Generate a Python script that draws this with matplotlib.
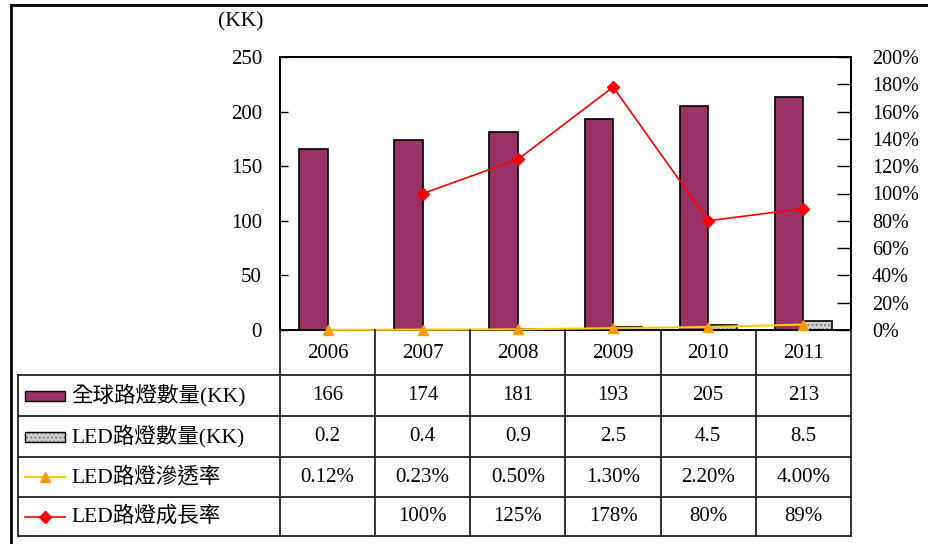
import numpy as np
import matplotlib
matplotlib.use("Agg")
import matplotlib.pyplot as plt
import matplotlib.transforms as mtransforms
from matplotlib.lines import Line2D
from matplotlib.patches import Rectangle

plt.rcParams['font.family'] = ['Liberation Serif', 'Noto Sans CJK TC', 'DejaVu Sans']

years = ['2006', '2007', '2008', '2009', '2010', '2011']
total_lights = [166, 174, 181, 193, 205, 213]
led_lights = [0.2, 0.4, 0.9, 2.5, 4.5, 8.5]
penetration = [0.12, 0.23, 0.50, 1.30, 2.20, 4.00]
growth = [np.nan, 100, 125, 178, 80, 89]
series_names = ['全球路燈數量(KK)', 'LED路燈數量(KK)', 'LED路燈滲透率', 'LED路燈成長率']

W, H = 929, 544
fig = plt.figure(figsize=(W / 100, H / 100), dpi=100)

def fx(px):
    return px / W

def fy(py):
    return 1 - py / H

ax = fig.add_axes([fx(280), fy(330), fx(851) - fx(280), fy(57) - fy(330)])
ax2 = ax.twinx()

x = np.arange(len(years))
bw = 0.3
plum = '#993366'
ax.bar(x - bw, total_lights, width=bw, align='edge', color=plum, edgecolor='black', linewidth=1.2)
ax.bar(x, led_lights, width=bw, align='edge', color='#d0d0d0', edgecolor='#808080',
       hatch='....', linewidth=0)
ax.bar(x, led_lights, width=bw, align='edge', fill=False, edgecolor='black', linewidth=1.2)

ax.set_xlim(-0.5, len(years) - 0.5)
ax.set_ylim(0, 250)
ax.set_yticks(np.arange(0, 251, 50))
ax.set_xticks([])
ax.tick_params(axis='y', direction='in', length=6, width=1, pad=13, labelsize=15)

ax2.plot(x, penetration, color='#ffcc00', linewidth=1.5, marker='^', markersize=6.5,
         markerfacecolor='#ff9900', markeredgecolor='#ff9900', clip_on=False, zorder=5)
ax2.plot(x, growth, color='#ff0000', linewidth=1.2, marker='D', markersize=6,
         markerfacecolor='#ff0000', markeredgecolor='#ff0000', clip_on=False, zorder=6)
ax2.set_ylim(0, 200)
ax2.set_yticks(np.arange(0, 201, 20))
ax2.set_yticklabels([f'{v}%' for v in range(0, 201, 20)])
ax2.tick_params(axis='y', direction='in', length=10, width=1, pad=15, labelsize=14.5)
for a in (ax, ax2):
    for s in a.spines.values():
        s.set_linewidth(1.3)

fig.text(fx(241), fy(22), '(KK)', ha='center', va='center', fontsize=15.5)

# data table under the chart
tr = mtransforms.blended_transform_factory(ax.transData, fig.transFigure)
rows = [375, 416, 457, 497, 536]
lc = '#222222'
for i in range(len(years) + 1):
    fig.add_artist(Line2D([i - 0.5, i - 0.5], [fy(330), fy(536)], transform=tr, color=lc, lw=1.3))
for r in rows:
    fig.add_artist(Line2D([fx(18), fx(851)], [fy(r), fy(r)], transform=fig.transFigure, color=lc, lw=1.3))
fig.add_artist(Line2D([fx(18), fx(18)], [fy(375), fy(536)], transform=fig.transFigure, color=lc, lw=1.3))

for i, yr in enumerate(years):
    fig.text(i, fy(353), yr, transform=tr, ha='center', va='center', fontsize=15)

cells = [
    [f'{v}' for v in total_lights],
    [f'{v:g}' for v in led_lights],
    [f'{v:.2f}%' for v in penetration],
    ['' if np.isnan(v) else f'{v:.0f}%' for v in growth],
]
for r, row in enumerate(cells):
    yc = fy((rows[r] + rows[r + 1]) / 2)
    for i, s in enumerate(row):
        fig.text(i, yc, s, transform=tr, ha='center', va='center', fontsize=15)
    fig.text(fx(71), yc, series_names[r], ha='left', va='center', fontsize=15.5)

# legend keys
y0 = (rows[0] + rows[1]) / 2
fig.add_artist(Rectangle((fx(25), fy(y0 + 5)), fx(65) - fx(25), fy(y0 - 5) - fy(y0 + 5),
                         transform=fig.transFigure, facecolor=plum, edgecolor='black', lw=1))
y1 = (rows[1] + rows[2]) / 2
fig.add_artist(Rectangle((fx(25), fy(y1 + 5)), fx(65) - fx(25), fy(y1 - 5) - fy(y1 + 5),
                         transform=fig.transFigure, facecolor='#d0d0d0', edgecolor='#808080',
                         hatch='....', lw=0))
fig.add_artist(Rectangle((fx(25), fy(y1 + 5)), fx(65) - fx(25), fy(y1 - 5) - fy(y1 + 5),
                         transform=fig.transFigure, fill=False, edgecolor='black', lw=1))
y2 = (rows[2] + rows[3]) / 2
fig.add_artist(Line2D([fx(25), fx(65)], [fy(y2), fy(y2)], transform=fig.transFigure,
                      color='#ffcc00', lw=1.5))
fig.add_artist(Line2D([fx(45)], [fy(y2)], transform=fig.transFigure, marker='^', markersize=6.5,
                      color='#ff9900', lw=0))
y3 = (rows[3] + rows[4]) / 2
fig.add_artist(Line2D([fx(25), fx(65)], [fy(y3), fy(y3)], transform=fig.transFigure,
                      color='#ff0000', lw=1.2))
fig.add_artist(Line2D([fx(45)], [fy(y3)], transform=fig.transFigure, marker='D', markersize=6,
                      color='#ff0000', lw=0))

# outer frame (left and top only)
fig.add_artist(Line2D([fx(11), fx(11)], [fy(5), 0], transform=fig.transFigure, color='black', lw=2))
fig.add_artist(Line2D([fx(11), 1], [fy(5), fy(5)], transform=fig.transFigure, color='black', lw=2))

fig.savefig('out.png', dpi=100)
